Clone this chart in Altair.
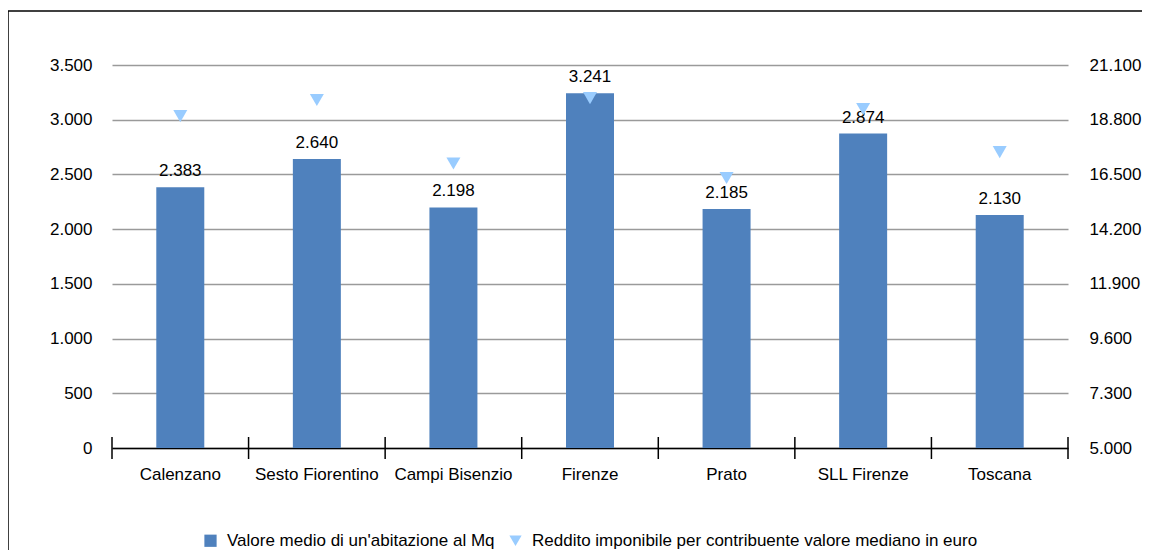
import altair as alt
import pandas as pd

categorie = ["Calenzano", "Sesto Fiorentino", "Campi Bisenzio", "Firenze", "Prato", "SLL Firenze", "Toscana"]
valore_mq = [2383, 2640, 2198, 3241, 2185, 2874, 2130]
reddito = [18950, 19630, 16960, 19710, 16350, 19250, 17440]
confini = [0, 1, 2, 3, 4, 5, 6, 7]
serie = ["Valore medio di un'abitazione al Mq",
         "Reddito imponibile per contribuente valore mediano in euro"]
tick_sx = [0, 500, 1000, 1500, 2000, 2500, 3000, 3500]
tick_dx = [5000, 7300, 9600, 11900, 14200, 16500, 18800, 21100]

FONT = "Liberation Sans"
FS = 17
BLU = "#4F81BD"
AZZURRO = "#99CCFF"
W, H = 956, 383
fmt = "replace(format(datum.value, ','), ',', '.')"

df = pd.DataFrame({"cat": categorie, "valore": valore_mq, "reddito": reddito})
df["serie"] = serie[1]

xscale = alt.Scale(domain=categorie, paddingInner=0, paddingOuter=0)
yscale = alt.Scale(domain=[0, 3500], nice=False, zero=True)
xaxis = alt.Axis(title=None, labelAngle=0, domainColor="black", domainWidth=1.5,
                 ticks=False, labelPadding=18, grid=False)
yaxis = alt.Axis(values=tick_sx, title=None, grid=True, gridColor="#9a9a9a",
                 gridWidth=1.5, ticks=False, domain=False, labelPadding=20, labelExpr=fmt)
base = alt.Chart(df)

bars = base.mark_bar(color=BLU, width=48).encode(
    x=alt.X("cat:N", scale=xscale, sort=categorie, axis=xaxis),
    y=alt.Y("valore:Q", scale=yscale, axis=yaxis),
)
text = base.transform_calculate(
    lab="replace(format(datum.valore, ','), ',', '.')"
).mark_text(baseline="alphabetic", dy=-11, font=FONT, fontSize=FS, color="black").encode(
    x=alt.X("cat:N", scale=xscale, sort=categorie, axis=xaxis),
    y=alt.Y("valore:Q", scale=yscale, axis=yaxis),
    text="lab:N",
)
left = alt.layer(bars, text)

leg = alt.Legend(orient="none", legendX=90, legendY=467, direction="horizontal", title=None,
                 labelFont=FONT, labelFontSize=FS, symbolSize=150, columnPadding=12,
                 labelOffset=8, labelLimit=600, symbolStrokeWidth=0)
points = base.mark_point(filled=True, size=196, opacity=1).encode(
    x=alt.X("cat:N", scale=xscale, sort=categorie, axis=None),
    y=alt.Y("reddito:Q", scale=alt.Scale(domain=[5000, 21100], nice=False, zero=False),
            axis=alt.Axis(orient="right", values=tick_dx, title=None, grid=False, ticks=False,
                          domain=False, labelPadding=21, labelExpr=fmt)),
    color=alt.Color("serie:N", scale=alt.Scale(domain=serie, range=[BLU, AZZURRO]), legend=leg),
    shape=alt.Shape("serie:N", scale=alt.Scale(domain=serie, range=["square", "triangle-down"]),
                    legend=leg),
)

ticks = alt.Chart(pd.DataFrame({"b": confini})).mark_rule(color="black", strokeWidth=1.5).encode(
    x=alt.X("b:Q", scale=alt.Scale(domain=[0, 7], nice=False, zero=False), axis=None),
    y=alt.value(H - 11), y2=alt.value(H + 11),
)
cornice = pd.DataFrame({"k": [0]})
frame_l = alt.Chart(cornice).mark_rule(color="black", strokeWidth=1.5).encode(
    x=alt.value(-104), y=alt.value(-54), y2=alt.value(H + 200))
frame_t = alt.Chart(cornice).mark_rule(color="black", strokeWidth=1.5).encode(
    x=alt.value(-104), x2=alt.value(W + 200), y=alt.value(-54))

chart = alt.layer(left, points, ticks, frame_l, frame_t).resolve_scale(
    x="independent", y="independent"
).properties(
    width=W, height=H,
    padding={"left": 104, "top": 57, "right": 74, "bottom": 102},
    autosize=alt.AutoSizeParams(type="none"),
).configure_view(stroke=None).configure_axis(
    labelFont=FONT, labelFontSize=FS, labelColor="black"
)

chart.save("out.html", embed_options={"renderer": "svg", "actions": False})
